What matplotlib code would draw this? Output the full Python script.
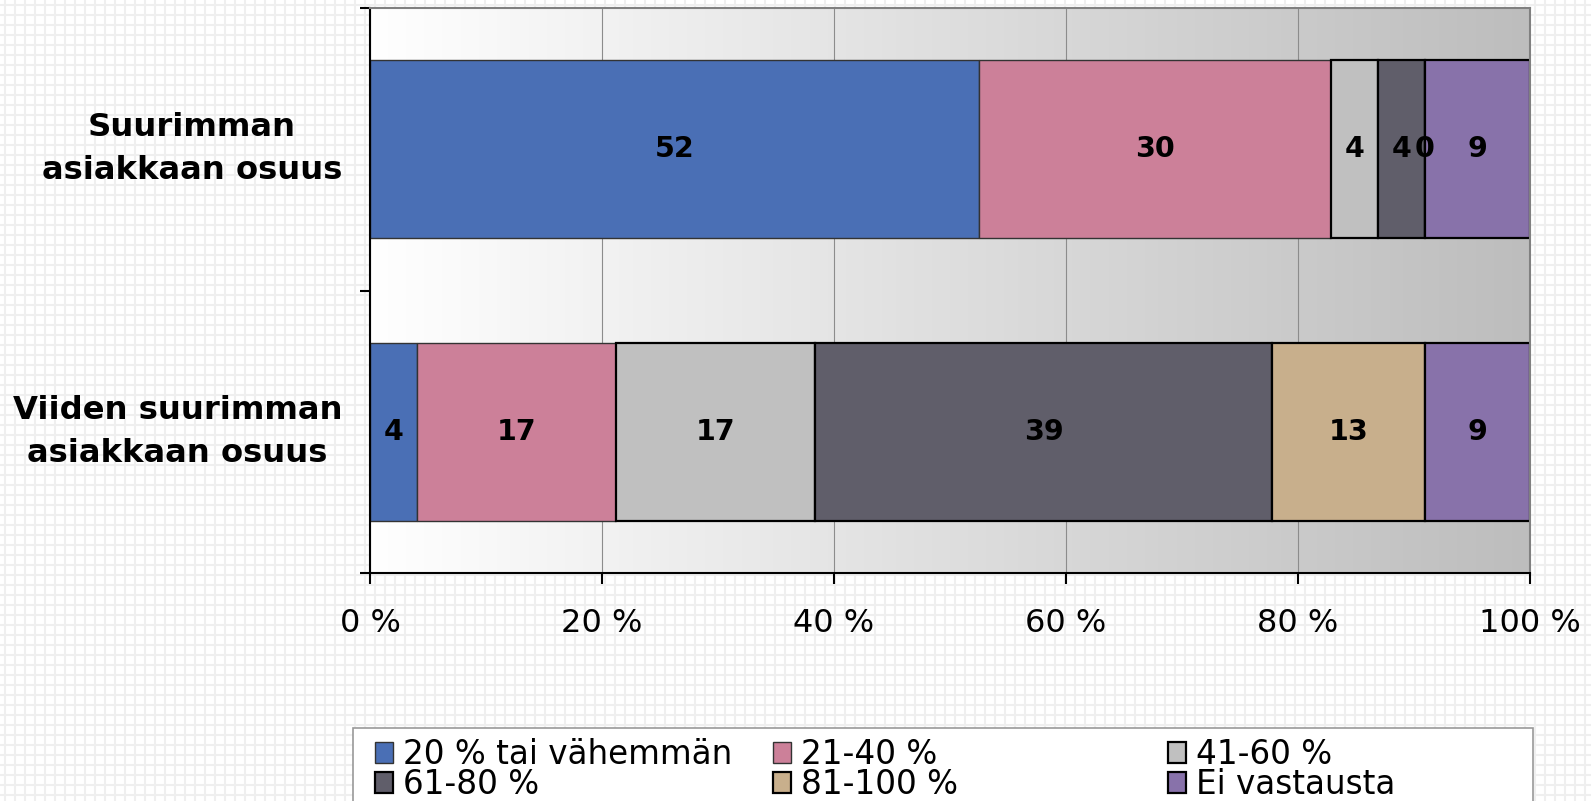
import numpy as np
import matplotlib.pyplot as plt
from matplotlib.colors import LinearSegmentedColormap
from matplotlib.patches import Rectangle

# data
categories = ["Viiden suurimman\nasiakkaan osuus", "Suurimman\nasiakkaan osuus"]
series = ["20 % tai vähemmän", "21-40 %", "41-60 %", "61-80 %", "81-100 %", "Ei vastausta"]
viiden = [4, 17, 17, 39, 13, 9]
suurimman = [52, 30, 4, 4, 0, 9]
xticks = [0, 20, 40, 60, 80, 100]

colors = ["#4A6FB5", "#CC8099", "#C0C0C0", "#605E6A", "#C8AF8C", "#8872AA"]
edgecols = ["#333333", "#333333", "black", "black", "black", "black"]
edgew = [1.0, 1.0, 1.6, 1.6, 1.6, 1.6]

W, H = 1591, 801
fig = plt.figure(figsize=(W / 100, H / 100), dpi=100)
fig.patch.set_facecolor("white")

# squared paper background
bg = fig.add_axes([0, 0, 1, 1], zorder=-10)
bg.set_xlim(0, W)
bg.set_ylim(H, 0)
for x in np.arange(5, W, 10):
    bg.axvline(x, color="#efefef", lw=1.5)
for y in np.arange(5, H, 10):
    bg.axhline(y, color="#efefef", lw=1.5)
bg.axis("off")

ax = fig.add_axes([370 / W, 1 - 573 / H, (1530 - 370) / W, (573 - 8) / H])
ax.set_facecolor("white")

# gradient plot area
cmap = LinearSegmentedColormap.from_list("g", ["#ffffff", "#bdbdbd"])
ax.imshow(np.linspace(0, 1, 256)[None, :], extent=[0, 100, -0.5, 1.5],
          aspect="auto", cmap=cmap, zorder=0)

data = np.array([viiden, suurimman], dtype=float)
tot = data.sum(axis=1, keepdims=True)
pct = data / tot * 100
ypos = np.arange(len(categories))

left = np.zeros(len(categories))
bars = []
for i, name in enumerate(series):
    b = ax.barh(ypos, pct[:, i], left=left, height=0.63, color=colors[i],
                edgecolor=edgecols[i], linewidth=edgew[i], label=name, zorder=2)
    ax.bar_label(b, labels=[f"{int(v)}" for v in data[:, i]], label_type="center",
                 fontsize=20.5, fontweight="bold", color="black", zorder=3)
    bars.append(b)
    left = left + pct[:, i]

ax.set_xlim(0, 100)
ax.set_ylim(-0.5, 1.5)
ax.set_xticks(xticks, [f"{v} %" for v in xticks], fontsize=23)
ax.set_yticks(ypos, categories, fontsize=23.2, fontweight="bold",
              multialignment="center", linespacing=1.48)
for lab in ax.get_yticklabels():
    lab.set_verticalalignment("center")
ax.set_yticks([-0.5, 0.5, 1.5], minor=True)
ax.tick_params(axis="y", which="major", length=0, pad=20)
ax.tick_params(axis="y", which="minor", length=7.5, width=1.5, direction="out")
ax.tick_params(axis="x", length=8, width=1.5, direction="out", pad=17)
ax.xaxis.grid(True, color="#8c8c8c", lw=0.8)
ax.set_axisbelow(True)

for s in ["left", "bottom"]:
    ax.spines[s].set_color("black")
    ax.spines[s].set_linewidth(1.5)
for s in ["top", "right"]:
    ax.spines[s].set_color("#808080")
    ax.spines[s].set_linewidth(1.5)

# legend: frame + three columns
fig.add_artist(Rectangle((353 / W, -0.05), (1533 - 353) / W, 0.05 + 1 - 728 / H,
                         transform=fig.transFigure, facecolor="white",
                         edgecolor="#999999", lw=1.2, zorder=5))
col_x = [375, 773, 1168]
cols = [[0, 3], [1, 4], [2, 5]]
for cx, idx in zip(col_x, cols):
    leg = fig.legend([bars[k] for k in idx], [series[k] for k in idx],
                     loc="upper left", bbox_to_anchor=(cx / W, 1 - 738 / H),
                     frameon=False, fontsize=23.5, ncol=1, labelspacing=-0.1,
                     handlelength=0.55, handleheight=0.6, handletextpad=0.3,
                     borderpad=0, borderaxespad=0)
    leg.set_zorder(6)

fig.savefig("out.png", dpi=100)
